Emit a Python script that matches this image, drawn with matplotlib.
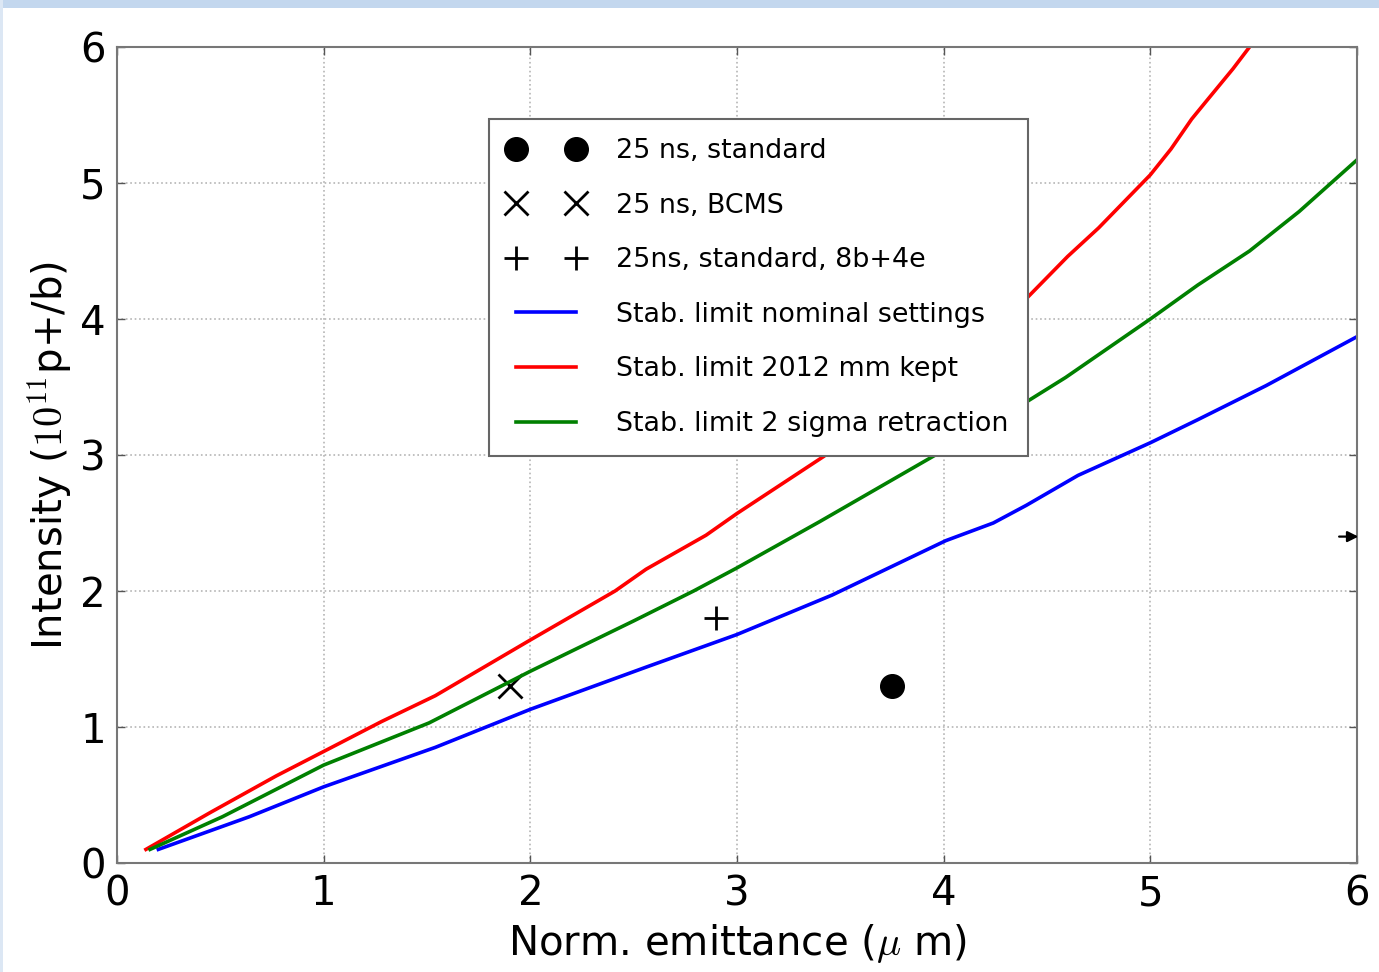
import numpy as np
import matplotlib
matplotlib.use("Agg")
import matplotlib.pyplot as plt
from matplotlib.patches import Rectangle

plt.rcParams['mathtext.fontset'] = 'cm'

# measured beams
std_x, std_y = [3.75], [1.3]
bcms_x, bcms_y = [1.9], [1.3]
b8e4_x, b8e4_y = [2.9], [1.8]
# point outside the plotted range (shown as arrow at the right edge)
offscale_x, offscale_y = 6.0, 2.4

# stability limits
nom_x = [0.2, 0.64, 1.0, 1.54, 2.0, 2.56, 3.0, 3.46, 4.01, 4.24, 4.4, 4.65, 5.0, 5.23, 5.56, 6.0]
nom_y = [0.1, 0.34, 0.56, 0.85, 1.13, 1.44, 1.68, 1.97, 2.37, 2.5, 2.63, 2.85, 3.09, 3.26, 3.51, 3.87]

mm_x = [0.14, 0.45, 0.77, 1.0, 1.28, 1.54, 2.0, 2.41, 2.56, 2.85, 3.0, 3.26, 3.42, 3.9, 4.4,
        4.6, 4.75, 5.0, 5.1, 5.2, 5.27, 5.4, 5.48]
mm_y = [0.1, 0.37, 0.64, 0.82, 1.04, 1.23, 1.64, 2.0, 2.16, 2.41, 2.57, 2.83, 2.99, 3.55, 4.15,
        4.46, 4.67, 5.06, 5.25, 5.47, 5.60, 5.84, 6.0]

ret_x = [0.16, 0.51, 1.0, 1.51, 2.0, 2.5, 2.79, 3.0, 3.4, 3.96, 4.4, 4.59, 5.0, 5.23, 5.48, 5.72, 6.0]
ret_y = [0.1, 0.34, 0.72, 1.03, 1.41, 1.78, 2.0, 2.17, 2.51, 3.0, 3.39, 3.57, 4.0, 4.25, 4.5, 4.79, 5.17]

fig = plt.figure(figsize=(13.79, 9.72), dpi=100)
fig.patch.set_facecolor('white')
# light blue slide border
fig.patches.append(Rectangle((0, 1 - 8/972), 1, 8/972, transform=fig.transFigure,
                             facecolor='#c3d7ee', edgecolor='none', zorder=-1))
fig.patches.append(Rectangle((0, 0), 3/1379, 1, transform=fig.transFigure,
                             facecolor='#dce7f4', edgecolor='none', zorder=-1))

ax = fig.add_axes([117/1379, 1 - 863/972, 1240/1379, 816/972])

ax.plot(std_x, std_y, 'ko', ms=17, linestyle='none', label='25 ns, standard')
ax.plot(bcms_x, bcms_y, 'kx', ms=17, mew=2, linestyle='none', label='25 ns, BCMS')
ax.plot(b8e4_x, b8e4_y, 'k+', ms=17, mew=2, linestyle='none', label='25ns, standard, 8b+4e')
ax.plot(nom_x, nom_y, color='b', lw=2.6, label='Stab. limit nominal settings')
ax.plot(mm_x, mm_y, color='r', lw=2.6, label='Stab. limit 2012 mm kept')
ax.plot(ret_x, ret_y, color='#008000', lw=2.6, label='Stab. limit 2 sigma retraction')

ax.annotate('', xy=(offscale_x + 0.02, offscale_y), xytext=(offscale_x - 0.1, offscale_y),
            arrowprops=dict(arrowstyle='-|>', color='k', lw=1.6, mutation_scale=16),
            annotation_clip=False)

ax.set_xlim(0, 6)
ax.set_ylim(0, 6)
ax.set_xticks(np.arange(0, 7, 1))
ax.set_yticks(np.arange(0, 7, 1))
ax.grid(True, color='#b5b5b5', linestyle=':', linewidth=1.2)
ax.tick_params(direction='in', length=6, width=1, top=True, right=True,
               labelsize=29, pad=8, color='#555555')
for s in ax.spines.values():
    s.set_color('#777777')
    s.set_linewidth(1.5)

ax.set_xlabel(r'Norm. emittance ($\mu$ m)', fontsize=29, labelpad=6)
ax.set_ylabel(r'Intensity ($10^{11}$p+/b)', fontsize=29, labelpad=4)

leg = ax.legend(loc='upper left', bbox_to_anchor=(0.300, 0.912), borderaxespad=0,
                numpoints=2, fontsize=19.4, fancybox=False, framealpha=1,
                handlelength=2.8, handletextpad=1.2, labelspacing=1.06, borderpad=0.72)
leg.get_frame().set_edgecolor('#666666')
leg.get_frame().set_linewidth(1.5)

fig.savefig('out.png', dpi=100)
